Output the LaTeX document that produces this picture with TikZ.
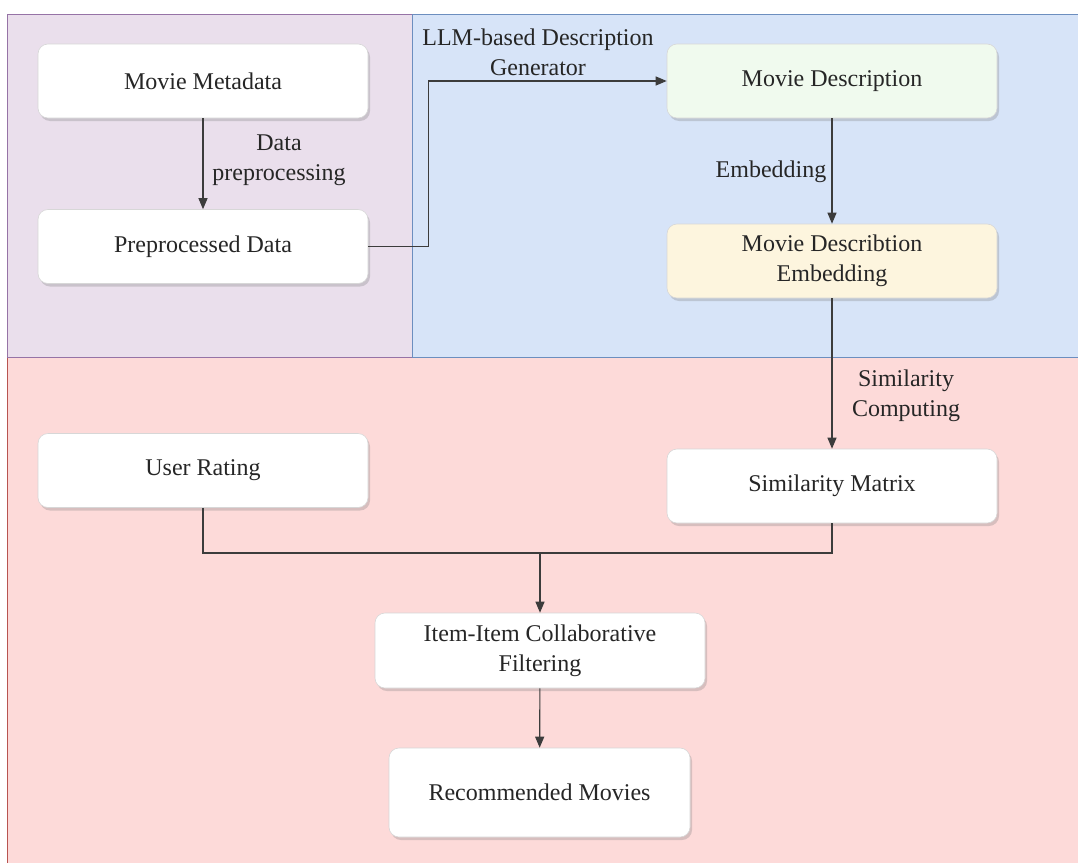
\documentclass[tikz,border=0pt]{standalone}
\usepackage{fontspec}
\setmainfont{Liberation Serif}
\usetikzlibrary{shadows,arrows.meta}

\definecolor{purplefill}{RGB}{234,223,236}
\definecolor{purpleline}{RGB}{150,115,166}
\definecolor{bluefill}{RGB}{215,228,248}
\definecolor{blueline}{RGB}{108,142,191}
\definecolor{redfill}{RGB}{253,218,217}
\definecolor{redline}{RGB}{184,84,80}
\definecolor{greenbox}{RGB}{240,250,238}
\definecolor{yellowbox}{RGB}{253,245,222}
\definecolor{boxline}{RGB}{215,215,215}
\definecolor{wire}{RGB}{60,60,60}

\tikzset{
  box/.style={draw=boxline, line width=0.6pt, fill=white, rounded corners=10pt,
    minimum width=330pt, minimum height=74pt, align=center,
    font=\fontsize{24}{30}\selectfont, text=black!85,
    drop shadow={opacity=0.3, shadow xshift=2pt, shadow yshift=-3pt}},
  lbl/.style={align=center, font=\fontsize{24}{30}\selectfont, text=black!85},
  wireline/.style={draw=wire, line width=1.1pt},
  arr/.style={wireline, -{Triangle[length=11pt,width=9pt]}},
}

\begin{document}
\begin{tikzpicture}[x=1pt, y=-1pt]
  \useasboundingbox (0,0) rectangle (1078,862);
  \clip (0,0) rectangle (1078,862);

  % background lanes
  \draw[fill=redfill, draw=redline, line width=0.8pt] (7,357) rectangle (1090,880);
  \draw[fill=purplefill, draw=purpleline, line width=0.8pt] (7,14) rectangle (412,357);
  \draw[fill=bluefill, draw=blueline, line width=0.8pt] (412,14) rectangle (1090,357);

  % process boxes
  \node[box] (mm)  at (203,81)    {Movie Metadata};
  \node[box] (pd)  at (203,246.5) {Preprocessed Data};
  \node[box, fill=greenbox] (md) at (832,81) {Movie Description};
  \node[box, fill=yellowbox] (mde) at (832,261) {Movie Describtion\\Embedding};
  \node[box] (ur)  at (203,470.5) {User Rating};
  \node[box] (sm)  at (832,486)   {Similarity Matrix};
  \node[box, minimum height=75pt] (icf) at (540,650.5) {Item-Item Collaborative\\Filtering};
  \node[box, minimum width=301pt, minimum height=89pt] (rm) at (539.5,792.5) {Recommended Movies};

  % edge labels
  \node[lbl] (lpre) at (279,160) {Data\\preprocessing};
  \node[lbl] (lllm) at (538,52)  {LLM-based Description\\Generator};
  \node[lbl] (lemb) at (771,172) {Embedding};
  \node[lbl] (lsim) at (906,396) {Similarity\\Computing};

  % connectors
  \draw[arr] (mm) -- (pd);
  \draw[arr] (pd.east) -- ++(60,0) |- (md.west);
  \draw[arr] (md) -- (mde);
  \draw[arr] (mde) -- (sm);

  \coordinate (join) at (540,553);
  \draw[wireline] (ur.south) |- (join);
  \draw[wireline] (sm.south) |- (join);
  \draw[arr] (join) -- (icf.north);
  \draw[arr] (icf) -- (rm);
\end{tikzpicture}
\end{document}
